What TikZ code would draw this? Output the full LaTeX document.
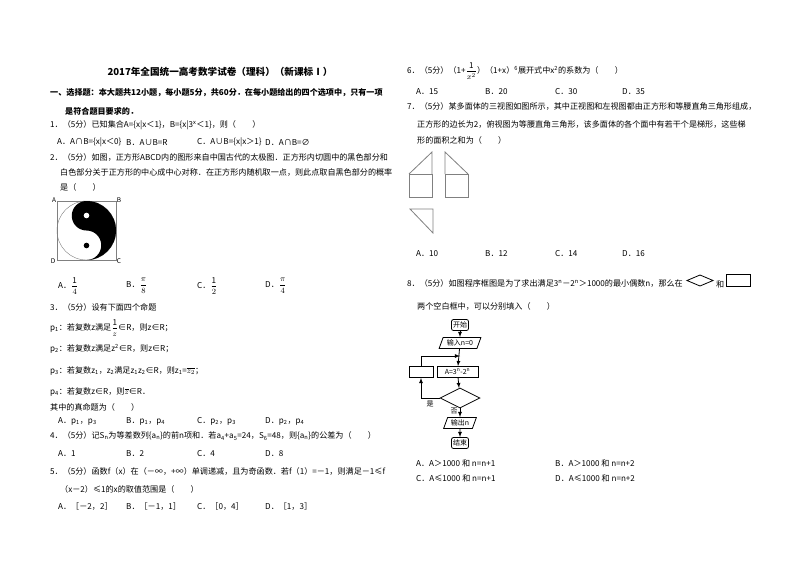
\documentclass[tikz,border=0pt]{standalone}
\usepackage{fontspec}
\setmainfont{Noto Sans CJK SC}
\usetikzlibrary{shapes.geometric}
\newcommand\TX[3]{\node[anchor=west,inner sep=0pt] at (#1,#2) {#3};}
\newcommand\myfr[2]{$\displaystyle\frac{\mathrm{#1}}{#2}$}
\begin{document}
\begin{tikzpicture}[x=1pt,y=-1pt,font=\fontsize{8.1}{9}\selectfont,
  fbox/.style={draw,thick,minimum height=11pt,inner sep=1.5pt,font=\fontsize{7}{7}\selectfont},
  para/.style={draw,thick,trapezium,trapezium left angle=70,trapezium right angle=110,minimum height=11pt,inner sep=1.5pt,font=\fontsize{7}{7}\selectfont},
  arr/.style={-latex,thick}]
\useasboundingbox (0,0) rectangle (800,565);
\fill[white] (0,0) rectangle (800,565);
% title
\node[font=\fontsize{9.6}{10}\selectfont\bfseries] (title) at (220,72) {2017年全国统一高考数学试卷（理科）（新课标Ⅰ）};
\TX{50}{93}{\bfseries 一、选择题：本大题共12小题，每小题5分，共60分．在每小题给出的四个选项中，只有一项}
\TX{65}{111}{\bfseries 是符合题目要求的．}
\TX{50}{125}{1．（5分）已知集合A=\{x|x＜1\}，B=\{x|3\textsuperscript{x}＜1\}，则（\quad\quad）}
\TX{57}{142}{A．A∩B=\{x|x＜0\}}
\TX{126}{142}{B．A∪B=R}
\TX{197}{142}{C．A∪B=\{x|x＞1\}}
\TX{265}{142}{D．A∩B=∅}
\TX{50}{157}{2．（5分）如图，正方形ABCD内的图形来自中国古代的太极图．正方形内切圆中的黑色部分和}
\TX{60}{172}{白色部分关于正方形的中心成中心对称．在正方形内随机取一点，则此点取自黑色部分的概率}
\TX{60}{187}{是（\quad\quad）}
% yin yang
\draw[gray] (57,201) rectangle (116,260);
\draw[gray] (86.5,230.5) circle[radius=29.5];
\fill (86.5,201) arc[start angle=-90,end angle=90,radius=29.5]
  arc[start angle=90,end angle=-90,radius=14.75]
  arc[start angle=90,end angle=270,radius=14.75] -- cycle;
\fill[white] (86.5,215.5) circle[radius=2.8];
\fill (86.5,245.5) circle[radius=2.8];
\node[font=\itshape\fontsize{6.5}{6.5}\selectfont] (A) at (54,200) {A};
\node[font=\itshape\fontsize{6.5}{6.5}\selectfont] (B) at (119,200) {B};
\node[font=\itshape\fontsize{6.5}{6.5}\selectfont] (C) at (119,261) {C};
\node[font=\itshape\fontsize{6.5}{6.5}\selectfont] (D) at (53,261) {D};
\TX{58}{286}{A．\myfr{1}{4}}
\TX{126}{286}{B．\myfr{\pi}{8}}
\TX{197}{286}{C．\myfr{1}{2}}
\TX{265}{286}{D．\myfr{\pi}{4}}
\TX{50}{307}{3．（5分）设有下面四个命题}
\TX{50}{328}{p\textsubscript{1}：若复数z满足\myfr{1}{z}∈R，则z∈R；}
\TX{50}{349}{p\textsubscript{2}：若复数z满足z\textsuperscript{2}∈R，则z∈R；}
\TX{50}{371}{p\textsubscript{3}：若复数z\textsubscript{1}，z\textsubscript{2}满足z\textsubscript{1}z\textsubscript{2}∈R，则z\textsubscript{1}=$\overline{z_2}$；}
\TX{50}{392}{p\textsubscript{4}：若复数z∈R，则$\overline{z}$∈R．}
\TX{50}{407}{其中的真命题为（\quad\quad）}
\TX{58}{421}{A．p\textsubscript{1}，p\textsubscript{3}}
\TX{126}{421}{B．p\textsubscript{1}，p\textsubscript{4}}
\TX{197}{421}{C．p\textsubscript{2}，p\textsubscript{3}}
\TX{265}{421}{D．p\textsubscript{2}，p\textsubscript{4}}
\TX{50}{436}{4．（5分）记S\textsubscript{n}为等差数列\{a\textsubscript{n}\}的前n项和．若a\textsubscript{4}+a\textsubscript{5}=24，S\textsubscript{6}=48，则\{a\textsubscript{n}\}的公差为（\quad\quad）}
\TX{58}{454}{A．1}
\TX{126}{454}{B．2}
\TX{197}{454}{C．4}
\TX{265}{454}{D．8}
\TX{50}{471}{5．（5分）函数f（x）在（－∞，+∞）单调递减，且为奇函数．若f（1）=－1，则满足－1≤f}
\TX{60}{489}{（x－2）≤1的x的取值范围是（\quad\quad）}
\TX{58}{506}{A．［－2，2］}
\TX{126}{506}{B．［－1，1］}
\TX{197}{506}{C．［0，4］}
\TX{265}{506}{D．［1，3］}
% right column
\TX{407}{71}{6．（5分）（1+\myfr{1}{x^2}）（1+x）\textsuperscript{6}展开式中x\textsuperscript{2}的系数为（\quad\quad）}
\TX{416}{92}{A．15}
\TX{485}{92}{B．20}
\TX{555}{92}{C．30}
\TX{622}{92}{D．35}
\TX{407}{106}{7．（5分）某多面体的三视图如图所示，其中正视图和左视图都由正方形和等腰直角三角形组成，}
\TX{417}{124}{正方形的边长为2，俯视图为等腰直角三角形，该多面体的各个面中有若干个是梯形，这些梯}
\TX{417}{140}{形的面积之和为（\quad\quad）}
\draw[gray,thick] (409,174) rectangle (432,197);
\draw[gray,thick] (409,174) -- (432,152) -- (432,174);
\draw[gray,thick] (445,174) rectangle (468,197);
\draw[gray,thick] (468,174) -- (445,152) -- (445,174);
\draw[gray,thick] (410,209) -- (433,209) -- (433,233) -- cycle;
\TX{416}{254}{A．10}
\TX{485}{254}{B．12}
\TX{555}{254}{C．14}
\TX{622}{254}{D．16}
\TX{407}{283}{8．（5分）如图程序框图是为了求出满足3\textsuperscript{n}－2\textsuperscript{n}＞1000的最小偶数n，那么在}
\draw[thick] (687,280.5) -- (700,275) -- (713,280.5) -- (700,286) -- cycle;
\TX{716}{284}{和}
\draw[thick] (726,274) rectangle (750,286);
\TX{417}{306}{两个空白框中，可以分别填入（\quad\quad）}
% flowchart
\node[fbox,rounded corners=2pt] (start) at (460,325) {开始};
\node[para] (inp) at (460,343) {输入\textit{n}=0};
\node[fbox,minimum width=41pt] (calc) at (457.5,372) {\textit{A}=3\textsuperscript{\textit{n}}-2\textsuperscript{\textit{n}}};
\node[fbox,minimum width=24pt] (blank) at (421,372) {};
\node[draw,thick,diamond,aspect=2,minimum width=40pt,minimum height=20pt,inner sep=0pt] (dec) at (460,398) {};
\node[para] (out) at (460,423) {输出\textit{n}};
\node[fbox,rounded corners=2pt] (end) at (460,443) {结束};
\coordinate (top) at (460,356);
\draw[arr] (start) -- (inp);
\draw[arr] (inp) -- (calc);
\draw[arr] (calc) -- (dec);
\draw[arr] (dec) -- (out);
\draw[arr] (out) -- (end);
\draw[arr] (dec.west) -| (blank.south);
\draw[arr] (blank.north) |- (top);
\node[font=\fontsize{7}{7}\selectfont] (yes) at (430,404) {是};
\node[font=\fontsize{7}{7}\selectfont] (no) at (454,411) {否};
\TX{416}{463}{A．A＞1000 和 n=n+1}
\TX{555}{463}{B．A＞1000 和 n=n+2}
\TX{416}{478}{C．A≤1000 和 n=n+1}
\TX{555}{478}{D．A≤1000 和 n=n+2}
\end{tikzpicture}
\end{document}
